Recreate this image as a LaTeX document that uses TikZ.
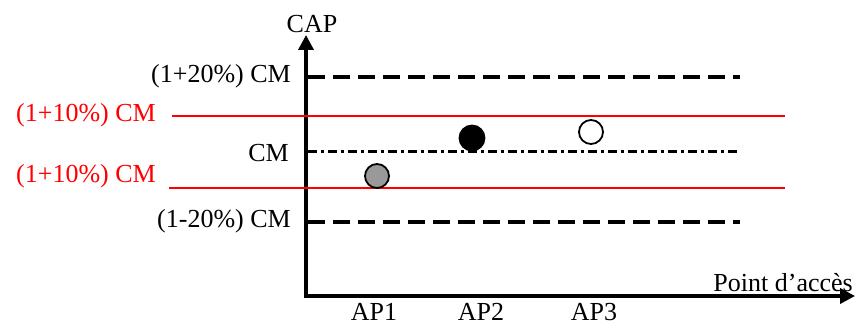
\documentclass[tikz,border=0pt]{standalone}
\usepackage{fontspec}
\setmainfont{Liberation Serif}
\usetikzlibrary{arrows.meta}
\begin{document}
\begin{tikzpicture}[x=1pt,y=-1pt,
  lbl/.style={font=\fontsize{26}{28}\selectfont, inner sep=0pt},
  axis/.style={line width=3.5pt, -{Triangle[length=15pt,width=15pt]}},
  dashline/.style={line width=3.5pt, dash pattern=on 17pt off 8pt},
  dotline/.style={line width=3pt, dash pattern=on 9pt off 4pt on 3pt off 4pt},
  redline/.style={red, line width=2pt},
  pt/.style={circle, draw, line width=1.8pt, minimum size=24pt, inner sep=0pt}]
\useasboundingbox (0,0) rectangle (856,328);
% axes
\coordinate (O) at (306,296);
\coordinate (ytip) at (306,35);
\coordinate (xtip) at (855,296);
\draw[axis] (306,297.75) -- (ytip);
\draw[axis] (304.25,296) -- (xtip);
\node[lbl, anchor=south] (cap) at (312,33) {CAP};
\node[lbl, anchor=south east] (pa) at (853,292) {Point d’accès};
% lines
\coordinate (d1a) at (308,77); \coordinate (d1b) at (740,77);
\coordinate (d2a) at (308,222); \coordinate (d2b) at (740,222);
\coordinate (cma) at (308,152); \coordinate (cmb) at (740,152);
\coordinate (r1a) at (172,116); \coordinate (r1b) at (785,116);
\coordinate (r2a) at (169,188); \coordinate (r2b) at (785,188);
\draw[dashline] (d1a) -- (d1b);
\draw[dashline] (d2a) -- (d2b);
\draw[dotline] (cma) -- (cmb);
\draw[redline] (r1a) -- (r1b);
\draw[redline] (r2a) -- (r2b);
% labels
\node[lbl, anchor=east] (l1) at (291,76) {(1+20\%) CM};
\node[lbl, anchor=east, text=red] (l2) at (156,115) {(1+10\%) CM};
\node[lbl, anchor=east] (l3) at (289,153) {CM};
\node[lbl, anchor=east, text=red] (l4) at (156,176) {(1+10\%) CM};
\node[lbl, anchor=east] (l5) at (291,221) {(1-20\%) CM};
% points
\node[pt, fill=gray!80] (p1) at (377,176) {};
\node[pt, fill=black, minimum size=25pt] (p2) at (472,138) {};
\node[pt, fill=white] (p3) at (591,132) {};
% AP labels
\node[lbl, anchor=base] (ap1) at (374,321) {AP1};
\node[lbl, anchor=base] (ap2) at (481,321) {AP2};
\node[lbl, anchor=base] (ap3) at (594,321) {AP3};
\end{tikzpicture}
\end{document}
